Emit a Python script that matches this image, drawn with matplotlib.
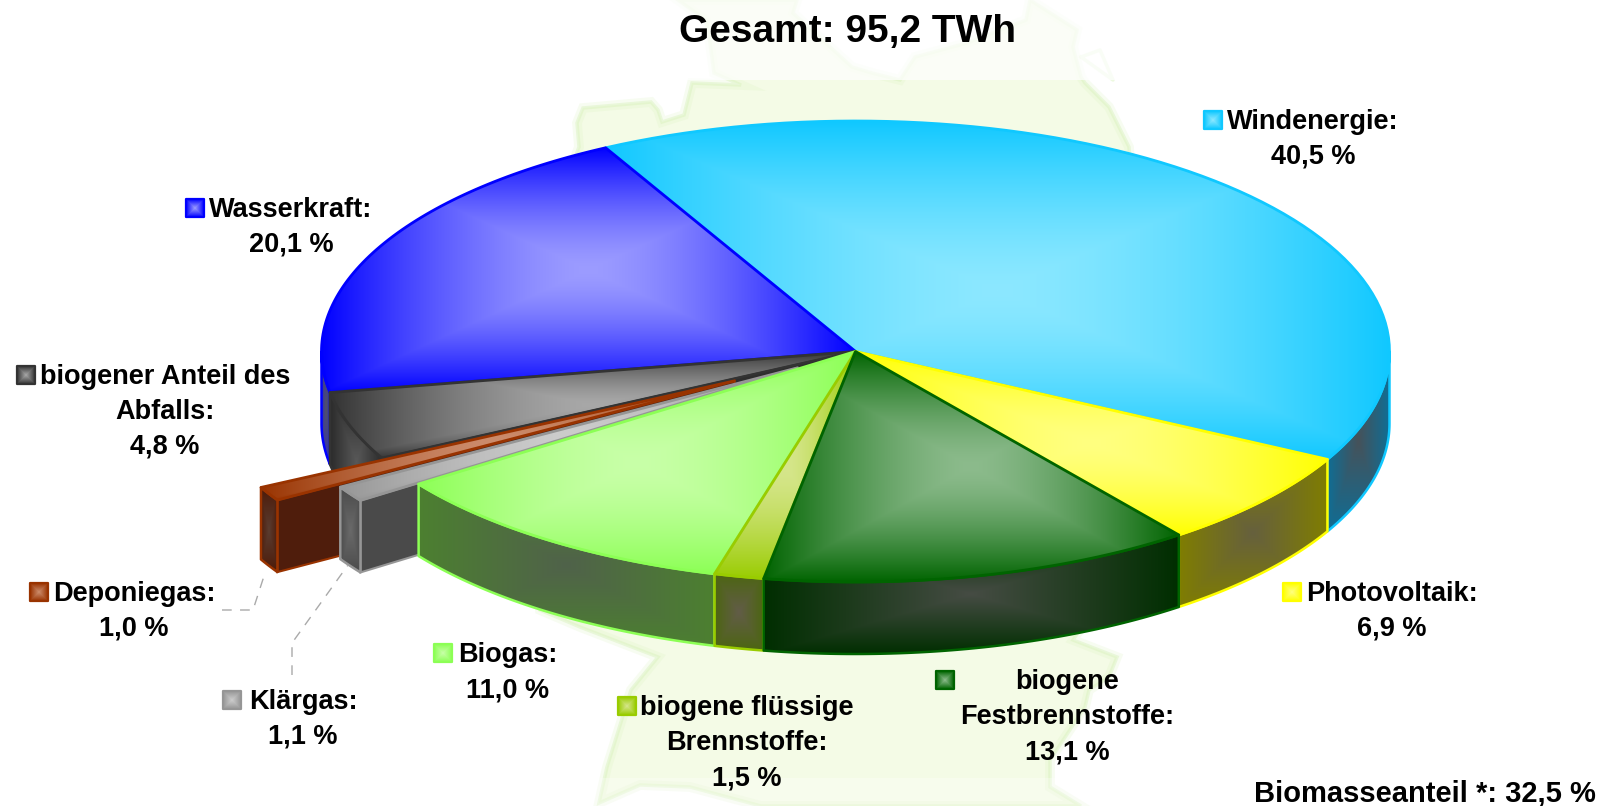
import numpy as np
import matplotlib
matplotlib.use("Agg")
import matplotlib.pyplot as plt
from matplotlib.patches import Polygon, Rectangle
from matplotlib.colors import to_rgb

# shares in percent, clockwise from the blue/cyan border
categories = ["Windenergie", "Photovoltaik", "Festbrennstoffe", "Fluessig", "Biogas",
              "Klaergas", "Deponiegas", "Abfall", "Wasserkraft"]
shares = [40.5, 6.9, 13.1, 1.5, 11.0, 1.1, 1.0, 4.8, 20.1]
explode = [0, 0, 0, 0, 0, 0.13, 0.26, 0, 0]
label_lines = [["Windenergie:"], ["Photovoltaik:"], ["biogene", "Festbrennstoffe:"],
               ["biogene flüssige", "Brennstoffe:"], ["Biogas:"], ["Klärgas:"],
               ["Deponiegas:"], ["biogener Anteil des", "Abfalls:"], ["Wasserkraft:"]]
title = "Gesamt: 95,2 TWh"
note = "Biomasseanteil *: 32,5 %"

# edge colour, middle of top, wall edge, wall middle
edge_col = ["#10c8ff", "#ffff00", "#006400", "#99cc00", "#8cff55", "#969696", "#993300", "#333333", "#0000ff"]
top_mid = ["#8ce8ff", "#ffff80", "#8cbb8c", "#d6e68c", "#c8ffa8", "#cccccc", "#cc8c6c", "#a8a8a8", "#9c9cff"]
wall_edge = ["#0e6e96", "#807e00", "#002e00", "#4c6610", "#4c8030", "#4b4b4b", "#4d1a08", "#2a2a2a", "#3030b0"]
wall_mid = ["#46525a", "#66603e", "#464c44", "#625c48", "#50624a", "#6a6a6a", "#5a3c30", "#585858", "#50506c"]
cut_col = ["#000000"] * 5 + ["#4a4a4a", "#4f1d0c", "#2e2e2e", "#000000"]

# pixel layout of the pie
cx, cy, ra, rb, depth = 855.5, 351.5, 534, 230.5, 72
start = 117.9

# label layout: marker centre, text centre x, y of first line
marker_pos = [(1213, 120), (1292, 592), (945, 680), (627, 706), (443, 653),
              (232, 700), (39, 592), (26, 375), (195, 208)]
text_pos = [(1313, 122), (1392, 594), (1067, 682), (747, 708), (508, 655),
            (303, 702), (134, 594), (165, 377), (291, 210)]
line_gap = 35

germany_x = [579, 577, 583, 651, 658, 662, 684, 692, 741, 714, 710, 706, 678, 797, 793, 852, 872, 900, 915,
             967, 1026, 1030, 1077, 1073, 1081, 1085, 1109, 1129, 1140, 1100, 1073, 1117, 1109, 1089, 1085,
             1050, 1050, 1081, 1081, 761, 690, 640, 599, 607, 631, 658, 580, 540, 520]
germany_y = [147, 123, 108, 102, 110, 122, 115, 83, 85, 73, 43, 20, 0, 0, 13, 67, 73, 80, 57,
             43, 20, 0, 30, 47, 77, 83, 107, 147, 300, 600, 640, 657, 677, 690, 707,
             760, 787, 806, 806, 806, 787, 785, 803, 767, 690, 657, 627, 610, 300]

fig = plt.figure(figsize=(16.05, 8.06), dpi=100)
ax = fig.add_axes([0, 0, 1, 1])
ax.set_xlim(0, 1605)
ax.set_ylim(806, 0)
ax.axis("off")


def grad_poly(xs, ys, c_edge, c_mid, z, line=None, lw=2, power=1.0):
    # rectangular "from the middle" gradient, clipped to the polygon
    x0, x1 = np.floor(min(xs)), np.ceil(max(xs))
    y0, y1 = np.floor(min(ys)), np.ceil(max(ys))
    nx, ny = int(max(x1 - x0, 1)), int(max(y1 - y0, 1))
    gx, gy = np.meshgrid((np.arange(nx) + .5) / nx * 2 - 1, (np.arange(ny) + .5) / ny * 2 - 1)
    t = np.maximum(np.abs(gx), np.abs(gy))[..., None] ** power
    img = np.array(to_rgb(c_mid)) * (1 - t) + np.array(to_rgb(c_edge)) * t
    im = ax.imshow(img, extent=(x0, x1, y1, y0), aspect="auto", zorder=z, interpolation="bilinear")
    im.set_clip_path(Polygon(np.c_[xs, ys], transform=ax.transData))
    if line:
        ax.add_patch(Polygon(np.c_[xs, ys], closed=True, fill=False, ec=line, lw=lw, zorder=z, joinstyle="round"))


def arc(t1, t2, off=(0, 0)):
    t = np.radians(np.linspace(t1, t2, 80))
    return cx + off[0] + ra * np.cos(t), cy + off[1] - rb * np.sin(t)


def top_face(i, t1, t2, off, z):
    ax_, ay_ = arc(t1, t2, off)
    xs = np.r_[cx + off[0], ax_]
    ys = np.r_[cy + off[1], ay_]
    grad_poly(xs, ys, edge_col[i], top_mid[i], z, line=edge_col[i], power=1.5)


def outer_wall(i, t1, t2, off, z):
    ax_, ay_ = arc(t1, t2, off)
    xs = np.r_[ax_, ax_[::-1]]
    ys = np.r_[ay_, ay_[::-1] + depth]
    grad_poly(xs, ys, wall_edge[i], wall_mid[i], z, line=edge_col[i], lw=1.8)


def cut_wall(i, t, off, z):
    px = cx + off[0] + ra * np.cos(np.radians(t))
    py = cy + off[1] - rb * np.sin(np.radians(t))
    xs = [cx + off[0], px, px, cx + off[0]]
    ys = [cy + off[1], py, py + depth, cy + off[1] + depth]
    ax.add_patch(Polygon(np.c_[xs, ys], fc=cut_col[i], ec=edge_col[i], lw=1.5, zorder=z))


# map in the background
ax.add_patch(Polygon(np.c_[germany_x, germany_y], fc="#f4fbe6", ec="none", zorder=1))
ax.add_patch(Polygon(np.c_[germany_x, germany_y], fill=False, ec="#d8f2bc", lw=7, alpha=.2, zorder=1.1))
ax.add_patch(Polygon(np.c_[germany_x, germany_y], fill=False, ec="#d8f2bc", lw=2.5, alpha=.45, zorder=1.2))
ax.plot([1081, 1113, 1100, 1081], [57, 80, 50, 57], color="#d8f2bc", lw=2.5, alpha=.45, zorder=1.2)
ax.add_patch(Rectangle((540, 0), 620, 80, fc="white", ec="none", alpha=.72, zorder=1.3))
ax.add_patch(Rectangle((540, 778), 620, 28, fc="white", ec="none", alpha=.3, zorder=1.3))

# slice borders in degrees, going clockwise
ends = start - np.cumsum(shares) * 3.6
begins = np.r_[start, ends[:-1]]
offs = []
for b, e, ex in zip(begins, ends, explode):
    m = np.radians((b + e) / 2)
    offs.append((ex * ra * np.cos(m), -ex * rb * np.sin(m)))

# drawn back to front; a later slice's border lies over the earlier one
z = 2
i = categories.index("Windenergie")
outer_wall(i, 0, ends[i], offs[i], z)
top_face(i, begins[i], ends[i], offs[i], z + 1)
z += 2

i = categories.index("Wasserkraft")
outer_wall(i, begins[i], -180, offs[i], z)
top_face(i, begins[i], ends[i], offs[i], z + 1)
z += 2

i = categories.index("Abfall")
outer_wall(i, begins[i], ends[i], offs[i], z)
top_face(i, begins[i], ends[i], offs[i], z + 1)
cut_wall(i, begins[i], offs[i], z + 2)
z += 3

for name in ["Deponiegas", "Klaergas"]:
    i = categories.index(name)
    cut_wall(i, begins[i], offs[i], z)
    outer_wall(i, begins[i], ends[i], offs[i], z + 1)
    top_face(i, begins[i], ends[i], offs[i], z + 2)
    z += 3

for name in ["Biogas", "Fluessig", "Photovoltaik", "Festbrennstoffe"]:
    i = categories.index(name)
    outer_wall(i, begins[i], ends[i], offs[i], z)
    top_face(i, begins[i], ends[i], offs[i], z + 1)
    z += 2

# leader lines of the two small slices
ax.plot([222, 253, 265], [610, 610, 573], color="#aaaaaa", lw=1, ls=(0, (7, 6)), zorder=40)
ax.plot([292, 292, 348], [675, 643, 565], color="#aaaaaa", lw=1, ls=(0, (7, 6)), zorder=40)

# labels
font = dict(family="Liberation Sans", weight="bold", color="black", zorder=50)
ax.text(847.5, 32, title, fontsize=28, ha="center", va="center", **font)
ax.text(1596, 793, note, fontsize=21, ha="right", va="center", **font)
for i, lines in enumerate(label_lines):
    mx, my = marker_pos[i]
    sx = [mx - 9, mx + 9, mx + 9, mx - 9]
    sy = [my - 9, my - 9, my + 9, my + 9]
    grad_poly(sx, sy, edge_col[i], top_mid[i], 45, line=edge_col[i], lw=1.6)
    tx, ty = text_pos[i]
    for k, s in enumerate(lines + [f"{shares[i]:.1f} %".replace(".", ",")]):
        ax.text(tx, ty + k * line_gap, s, fontsize=19.5, ha="center", va="center", **font)

ax.set_xlim(0, 1605)
ax.set_ylim(806, 0)
fig.savefig("out.png", dpi=100)
